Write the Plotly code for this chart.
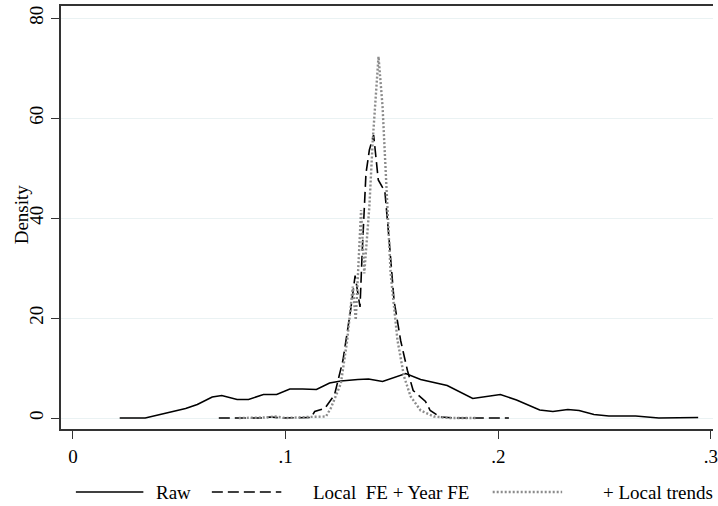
import plotly.graph_objects as go

# ---- data ----
raw_x = [0.022, 0.034, 0.041, 0.047, 0.053, 0.0585, 0.0655, 0.070, 0.0772, 0.0826,
         0.0896, 0.0958, 0.102, 0.108, 0.1145, 0.1207, 0.126, 0.134, 0.139, 0.1456,
         0.1565, 0.1635, 0.176, 0.188, 0.201, 0.2086, 0.2195, 0.2257, 0.2327, 0.238,
         0.245, 0.252, 0.2646, 0.2755, 0.288, 0.294]
raw_y = [0, 0, 0.7, 1.3, 1.9, 2.7, 4.2, 4.5, 3.7, 3.7,
         4.7, 4.7, 5.8, 5.8, 5.7, 7.0, 7.4, 7.7, 7.8, 7.3,
         8.9, 7.7, 6.5, 3.9, 4.7, 3.6, 1.6, 1.3, 1.7, 1.5,
         0.7, 0.4, 0.4, 0.0, 0.1, 0.1]

fe_x = [0.0686, 0.088, 0.093, 0.098, 0.112, 0.1137, 0.1184, 0.123, 0.127, 0.1308,
        0.1327, 0.135, 0.136, 0.1378, 0.1394, 0.1414, 0.1436, 0.1467, 0.1487, 0.151,
        0.1541, 0.1573, 0.160, 0.1658, 0.168, 0.1727, 0.18, 0.205]
fe_y = [0, 0, 0.2, 0, 0.1, 1.3, 1.9, 4.6, 11.6, 22.2,
        28.5, 22.2, 32.9, 48.9, 53.6, 56.6, 47.6, 45.3, 35.6, 23.5,
        15.5, 9.5, 5.5, 3.3, 1.5, 0.2, 0, 0]

lt_x = [0.078, 0.09, 0.095, 0.1, 0.11, 0.115, 0.119, 0.1213, 0.126, 0.129,
        0.1316, 0.133, 0.1347, 0.1355, 0.137, 0.1394, 0.141, 0.1425, 0.1437, 0.1456,
        0.147, 0.1494, 0.1526, 0.1557, 0.1588, 0.1635, 0.1697, 0.177, 0.19]
lt_y = [0, 0.1, 0.3, 0, 0.2, 0.3, 0.3, 2.0, 6.9, 15.6,
        26.3, 19.6, 35.6, 41.6, 28.9, 42.3, 55.6, 65.6, 72.3, 62.3,
        48.9, 28.9, 15.6, 8.3, 4.3, 1.5, 0.3, 0, 0]

series_names = ["Raw", "Local\u00a0 FE + Year FE", "+ Local trends"]
x_tickvals = [0, 0.1, 0.2, 0.3]
x_ticktext = ["0", ".1", ".2", ".3"]
y_tickvals = [0, 20, 40, 60, 80]
y_ticktext = ["0", "20", "40", "60", "80"]

FONT = "Liberation Serif"
FS = 19
styles = [
    dict(color="black", width=1.6, dash="solid"),
    dict(color="black", width=1.6, dash="11px,5px"),
    dict(color="#8c8c8c", width=2.4, dash="2px,2px"),
]

fig = go.Figure()
for xs, ys, name, st in zip([raw_x, fe_x, lt_x], [raw_y, fe_y, lt_y], series_names, styles):
    fig.add_trace(go.Scatter(x=xs, y=ys, mode="lines", name=name, line=st,
                             showlegend=False, hoverinfo="skip"))

# ---- geometry ----
W, H = 718, 506
L, R, T, B = 61, 0, 6, 77
pw, ph = W - L - R, H - T - B

def px_x(p):
    return (p - L) / pw

def px_y(p):
    return (H - B - p) / ph

# manual legend (line sample + label)
legend_layout = [(76, 144, 155), (213, 283, 313), (496, 566, 605)]
ly = 492
shapes = []
annotations = []
for (x0, x1, tx), name, st in zip(legend_layout, series_names, styles):
    shapes.append(dict(type="line", xref="paper", yref="paper",
                       x0=px_x(x0), x1=px_x(x1), y0=px_y(ly), y1=px_y(ly),
                       line=st))
    annotations.append(dict(text=name, xref="paper", yref="paper",
                            x=px_x(tx), y=px_y(ly), xanchor="left", yanchor="middle",
                            showarrow=False, font=dict(family=FONT, size=FS, color="black")))

annotations.append(dict(text="Density", xref="paper", yref="paper",
                        x=px_x(21), y=px_y(214), xanchor="center", yanchor="middle",
                        textangle=-90, showarrow=False,
                        font=dict(family=FONT, size=FS, color="black")))

fig.update_layout(
    width=W, height=H,
    margin=dict(l=L, r=R, t=T, b=B, pad=0),
    paper_bgcolor="white", plot_bgcolor="white",
    font=dict(family=FONT, size=FS, color="black"),
    shapes=shapes, annotations=annotations,
    showlegend=False,
)
fig.update_xaxes(
    range=[(L - 73) / 2143, (W - 73) / 2143],
    tickvals=x_tickvals, ticktext=x_ticktext,
    showgrid=False, zeroline=False,
    showline=True, linecolor="#333333", linewidth=1.6, mirror=True,
    ticks="outside", ticklen=8, tickcolor="#333333", tickwidth=1.4,
    ticklabelstandoff=1, ticklabeloverflow="allow",
)
fig.update_yaxes(
    range=[-(429 - 418) / 5.0, (418 - 6) / 5.0],
    tickvals=y_tickvals, ticktext=y_ticktext, tickangle=-90,
    showgrid=True, gridcolor="#eaf2f3", gridwidth=1.2, zeroline=False,
    showline=True, linecolor="#333333", linewidth=1.6,
    ticks="outside", ticklen=8, tickcolor="#333333", tickwidth=1.4,
    ticklabelstandoff=1, ticklabeloverflow="allow",
)

fig.write_html(
    "out.html",
    config={"displayModeBar": False},
    post_script="document.body.style.margin='0px';document.body.style.overflow='hidden';",
)
